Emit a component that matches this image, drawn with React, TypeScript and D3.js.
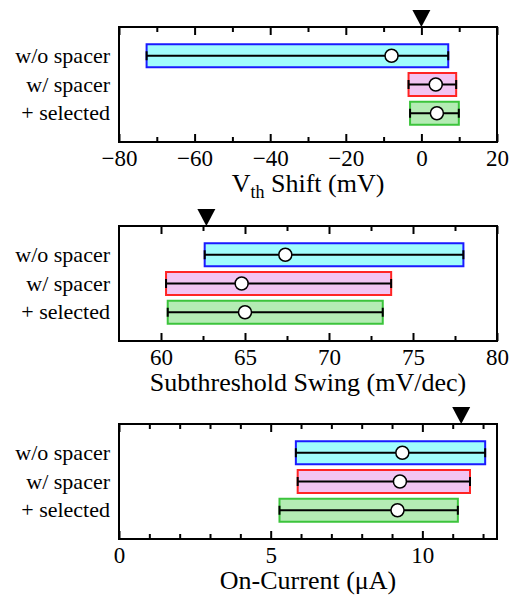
import React, { useEffect, useRef } from "react";
import * as d3 from "d3";

const categories = ["w/o spacer", "w/ spacer", "+ selected"];

// Vth shift (mV)
const vthMin = [-72.7, -3.4, -3.0];
const vthMean = [-7.9, 3.8, 4.1];
const vthMax = [7.1, 9.2, 9.9];
const vthTarget = 0;
const vthDomain = [-80, 20];
const vthMajor = [-80, -60, -40, -20, 0, 20];
const vthMinor = [-70, -50, -30, -10, 10];

// Subthreshold swing (mV/dec)
const ssMin = [62.6, 60.3, 60.4];
const ssMean = [67.4, 64.8, 65.0];
const ssMax = [78.0, 73.7, 73.2];
const ssTarget = 62.7;
const ssDomain = [57.5, 80];
const ssMajor = [60, 65, 70, 75, 80];
const ssMinor = [62.5, 67.5, 72.5, 77.5];

// On-current (uA)
const ionMin = [5.83, 5.89, 5.29];
const ionMean = [9.34, 9.26, 9.18];
const ionMax = [12.07, 11.57, 11.17];
const ionTarget = 11.28;
const ionDomain = [0, 12.46];
const ionMajor = [0, 5, 10];
const ionMinor = [1, 2, 3, 4, 6, 7, 8, 9, 11, 12];

const fills = ["#a0fcfc", "#f2c4f2", "#b4ecb4"];
const strokes = ["#1a1aff", "#ff2424", "#3cc43c"];
const FONT = "'Liberation Serif', 'Times New Roman', serif";

export default function App() {
  const svgRef = useRef(null);

  useEffect(() => {
    const W = 509;
    const left = 119;
    const right = 497;
    const panelH = 115;

    const panels = [
      { top: 27, domain: vthDomain, major: vthMajor, minor: vthMinor, mins: vthMin, means: vthMean, maxs: vthMax, target: vthTarget, title: "vth" },
      { top: 226, domain: ssDomain, major: ssMajor, minor: ssMinor, mins: ssMin, means: ssMean, maxs: ssMax, target: ssTarget, title: "Subthreshold Swing (mV/dec)" },
      { top: 424, domain: ionDomain, major: ionMajor, minor: ionMinor, mins: ionMin, means: ionMean, maxs: ionMax, target: ionTarget, title: "On-Current (\u03bcA)" },
    ];

    const svg = d3.select(svgRef.current);
    svg.selectAll("*").remove();

    panels.forEach((p) => {
      const x = d3.scaleLinear().domain(p.domain).range([left, right]);
      const y = d3.scalePoint().domain(categories).range([p.top, p.top + panelH]).padding(1);
      const bottom = p.top + panelH;
      const g = svg.append("g");

      // inward ticks, top and bottom
      const tickAxis = (sel, axisFn, vals, size) => {
        sel.call(axisFn(x).tickValues(vals).tickSize(-size).tickFormat(() => ""));
        sel.select(".domain").remove();
        sel.selectAll("line").attr("stroke", "#000").attr("stroke-width", 2);
      };
      g.append("g").attr("transform", `translate(0,${bottom})`).call((s) => tickAxis(s, d3.axisBottom, p.major, 8));
      g.append("g").attr("transform", `translate(0,${bottom})`).call((s) => tickAxis(s, d3.axisBottom, p.minor, 5));
      g.append("g").attr("transform", `translate(0,${p.top})`).call((s) => tickAxis(s, d3.axisTop, p.major, 8));
      g.append("g").attr("transform", `translate(0,${p.top})`).call((s) => tickAxis(s, d3.axisTop, p.minor, 5));

      // tick labels
      const lab = g.append("g").attr("transform", `translate(0,${bottom})`)
        .call(d3.axisBottom(x).tickValues(p.major).tickSize(0).tickPadding(8).tickFormat(d3.format("d")));
      lab.select(".domain").remove();
      lab.selectAll("text").attr("font-family", FONT).attr("font-size", 23).attr("fill", "#000");

      // bars
      categories.forEach((c, i) => {
        const cy = y(c);
        g.append("rect")
          .attr("x", x(p.mins[i]))
          .attr("y", cy - 11.5)
          .attr("width", x(p.maxs[i]) - x(p.mins[i]))
          .attr("height", 23)
          .attr("fill", fills[i])
          .attr("stroke", strokes[i])
          .attr("stroke-width", 2);
        g.append("line")
          .attr("x1", x(p.mins[i])).attr("x2", x(p.maxs[i]))
          .attr("y1", cy).attr("y2", cy)
          .attr("stroke", "#000").attr("stroke-width", 2);
        [p.mins[i], p.maxs[i]].forEach((v) => {
          g.append("line")
            .attr("x1", x(v)).attr("x2", x(v))
            .attr("y1", cy - 4.5).attr("y2", cy + 4.5)
            .attr("stroke", "#000").attr("stroke-width", 2);
        });
        g.append("circle")
          .attr("cx", x(p.means[i])).attr("cy", cy).attr("r", 6.5)
          .attr("fill", "#fff").attr("stroke", "#000").attr("stroke-width", 1.5);
        g.append("text")
          .attr("x", 110).attr("y", cy + 7)
          .attr("text-anchor", "end")
          .attr("font-family", FONT).attr("font-size", 22)
          .text(c);
      });

      // frame
      g.append("rect")
        .attr("x", left).attr("y", p.top)
        .attr("width", right - left).attr("height", panelH)
        .attr("fill", "none").attr("stroke", "#000").attr("stroke-width", 2);

      // target marker
      const tx = x(p.target);
      g.append("path")
        .attr("d", `M${tx - 9},${p.top - 17}L${tx + 9},${p.top - 17}L${tx},${p.top}Z`)
        .attr("fill", "#000");

      // title
      const t = g.append("text")
        .attr("x", (left + right) / 2)
        .attr("y", bottom + 50)
        .attr("text-anchor", "middle")
        .attr("font-family", FONT).attr("font-size", 26);
      if (p.title === "vth") {
        t.append("tspan").text("V");
        t.append("tspan").attr("font-size", 18).attr("dy", 6).text("th");
        t.append("tspan").attr("dy", -6).text(" Shift (mV)");
      } else {
        t.text(p.title);
      }
    });
  }, []);

  return (
    <div style={{ position: "absolute", left: 0, top: 0, background: "#fff" }}>
      <svg ref={svgRef} width={509} height={596} />
    </div>
  );
}
